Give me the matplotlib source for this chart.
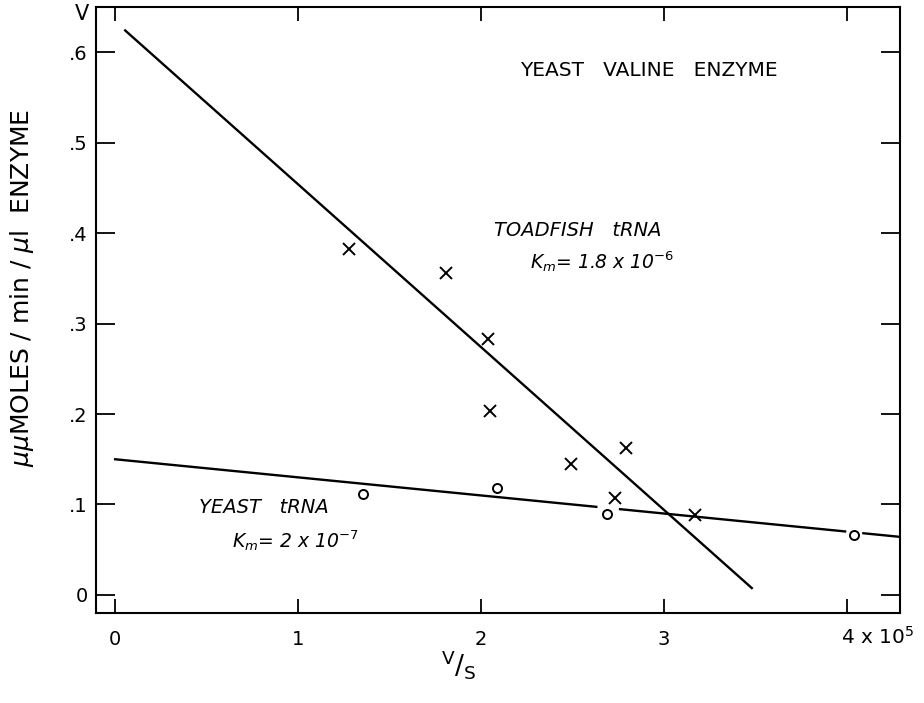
import numpy as np
import matplotlib.pyplot as plt

# Eadie-Hofstee plot: v against v/S (x in units of 1e5)
toad_x = [1.28, 1.81, 2.04, 2.05, 2.49, 2.79, 2.73, 3.17]
toad_y = [0.382, 0.356, 0.283, 0.203, 0.145, 0.162, 0.107, 0.088]

yeast_x = [1.355, 2.09, 2.69, 4.04]
yeast_y = [0.112, 0.118, 0.089, 0.066]

# fitted lines: intercept = Vmax, slope = -Km (x scaled by 1e5)
toad_vmax, toad_km = 0.634, 0.18
yeast_vmax, yeast_km = 0.150, 0.02

xticks = [0, 1, 2, 3, 4]
xticklabels = ["0", "1", "2", "3", ""]
yticks = [0, 0.1, 0.2, 0.3, 0.4, 0.5, 0.6]
yticklabels = ["0", ".1", ".2", ".3", ".4", ".5", ".6"]

plt.rcParams['font.family'] = ['DejaVu Sans']

fig = plt.figure(figsize=(9.24, 7.03), dpi=100)
ax = fig.add_axes([0.104, 0.128, 0.870, 0.862])
ax.set_xlim(-0.104, 4.29)
ax.set_ylim(-0.020, 0.650)

# toadfish line
tx = np.array([0.055, 3.48])
ax.plot(tx, toad_vmax - toad_km * tx, color='black', lw=1.7)

# yeast line, broken around the open circles
for a, b in [(0.0, 2.63), (2.76, 3.99), (4.09, 4.29)]:
    sx = np.array([a, b])
    ax.plot(sx, yeast_vmax - yeast_km * sx, color='black', lw=1.7)

ax.plot(toad_x, toad_y, linestyle='none', marker='x', markersize=8.5,
        markeredgewidth=1.4, color='black')
ax.plot(yeast_x, yeast_y, linestyle='none', marker='o', markersize=6.5,
        markerfacecolor='white', markeredgewidth=1.4, color='black')

ax.set_xticks(xticks)
ax.set_xticklabels(xticklabels)
ax.set_yticks(yticks)
ax.set_yticklabels(yticklabels)
ax.tick_params(direction='in', width=1.3, top=True, right=True, labelsize=14)
ax.tick_params(axis='x', length=10, pad=12)
ax.tick_params(axis='y', length=14, pad=6)
for sp in ax.spines.values():
    sp.set_linewidth(1.5)

ax.text(3.97, -0.046, r"4 x 10$^5$", fontsize=14.5, ha='left', va='center',
        clip_on=False)
ax.text(-0.18, 0.642, "V", fontsize=15, ha='center', va='center',
        clip_on=False)

ax.text(2.92, 0.580, "YEAST   VALINE   ENZYME", fontsize=14.5, ha='center',
        va='center')
ax.text(2.07, 0.403, "TOADFISH   tRNA", fontsize=14, style='italic',
        ha='left', va='center')
ax.text(2.27, 0.368, r"$K_m$= 1.8 x 10$^{-6}$", fontsize=13.5, style='italic',
        ha='left', va='center')
ax.text(0.46, 0.097, "YEAST   tRNA", fontsize=14, style='italic',
        ha='left', va='center')
ax.text(0.64, 0.060, r"$K_m$= 2 x 10$^{-7}$", fontsize=13.5, style='italic',
        ha='left', va='center')

fig.text(0.024, 0.590, r"$\mu\mu$MOLES / min / $\mu$l  ENZYME", fontsize=18,
         rotation=90, ha='center', va='center')
fig.text(0.497, 0.055, r"$^{\rm V}/_{\rm S}$", fontsize=19, ha='center',
         va='center')

fig.savefig("out.png", dpi=100)
